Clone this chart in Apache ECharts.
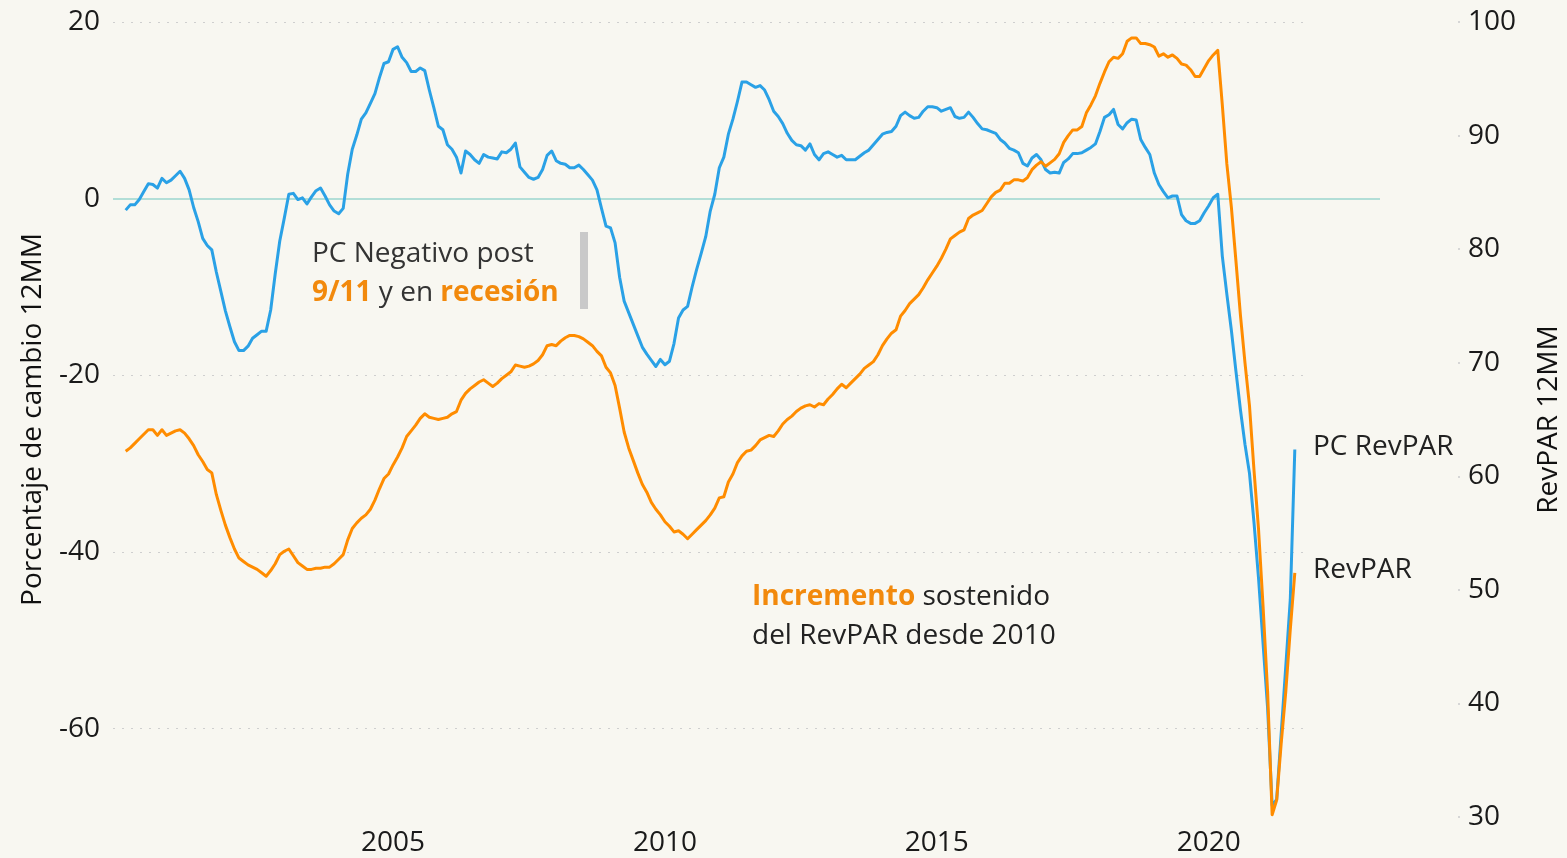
<!DOCTYPE html>
<html><head><meta charset="utf-8">
<script src="https://cdn.jsdelivr.net/npm/echarts@6/dist/echarts.min.js"></script>
<style>html,body{margin:0;padding:0;background:#f8f7f1;}#c{width:1567px;height:858px;}</style>
</head><body><div id="c"></div>
<script>
// ---- data ----
const startYear = 2000; // monthly series, first value = Jan 2000
const xTickLabels = [2005, 2010, 2015, 2020];
const leftTickValues = [-60, -40, -20, 0, 20];
const gridLineValues = [-60, -40, -20, 20];
const seriesNames = ['PC RevPAR', 'RevPAR'];
const pcRevpar = [
  -1.3,-0.7,-0.7,-0.1,0.8,1.7,1.6,1.2,2.3,1.8,2.1,2.6,
  3.1,2.3,1.0,-1.0,-2.6,-4.5,-5.3,-5.8,-8.3,-10.5,-12.7,-14.5,
  -16.2,-17.2,-17.2,-16.7,-15.8,-15.4,-15.0,-15.0,-12.6,-8.5,-4.8,-2.2,
  0.5,0.6,-0.1,0.1,-0.6,0.2,0.9,1.2,0.3,-0.7,-1.4,-1.7,
  -1.1,2.8,5.6,7.2,9.0,9.7,10.8,11.9,13.7,15.3,15.5,16.9,
  17.2,16.0,15.4,14.4,14.4,14.8,14.5,12.3,10.3,8.2,7.8,6.1,
  5.6,4.7,2.9,5.4,5.0,4.4,4.0,5.0,4.7,4.6,4.5,5.3,
  5.2,5.6,6.3,3.6,3.0,2.4,2.2,2.4,3.3,4.9,5.4,4.3,
  4.0,3.9,3.5,3.5,3.8,3.3,2.7,2.1,1.0,-1.1,-3.1,-3.3,
  -5.0,-8.9,-11.6,-12.9,-14.2,-15.5,-16.8,-17.6,-18.3,-19.0,-18.2,-18.8,
  -18.4,-16.4,-13.5,-12.6,-12.2,-10.0,-8.0,-6.2,-4.3,-1.4,0.5,3.5,
  4.7,7.3,9.0,11.0,13.2,13.2,12.9,12.6,12.8,12.3,11.2,9.9,
  9.3,8.5,7.4,6.6,6.1,6.0,5.5,6.2,5.0,4.4,5.1,5.3,
  5.0,4.7,4.9,4.4,4.4,4.4,4.8,5.2,5.5,6.1,6.7,7.3,
  7.5,7.6,8.2,9.4,9.8,9.4,9.1,9.2,9.9,10.4,10.4,10.3,
  9.9,10.1,10.3,9.3,9.1,9.2,9.8,9.2,8.5,7.9,7.8,7.6,
  7.4,6.7,6.3,5.7,5.5,5.2,4.0,3.7,4.6,5.0,4.4,3.3,
  2.9,3.0,2.9,4.1,4.5,5.1,5.1,5.2,5.5,5.8,6.2,7.6,
  9.2,9.5,10.1,8.4,7.9,8.6,9.0,8.9,6.7,5.8,5.0,2.9,
  1.6,0.8,0.1,0.3,0.3,-1.8,-2.5,-2.8,-2.8,-2.5,-1.6,-0.8,
  0.1,0.5,-6.5,-10.8,-14.9,-19.5,-23.9,-27.8,-31.1,-36.7,-43.0,-50.4,
  -57.7,-68.7,-68.0,-60.5,-53.0,-45.4,-28.4
];
const revpar = [
  62.2,62.5,62.9,63.3,63.7,64.1,64.1,63.6,64.1,63.6,63.8,64.0,
  64.1,63.8,63.3,62.7,61.9,61.3,60.6,60.3,58.4,57.0,55.7,54.6,
  53.6,52.8,52.5,52.2,52.0,51.8,51.5,51.2,51.7,52.3,53.1,53.4,
  53.6,53.0,52.4,52.1,51.8,51.8,51.9,51.9,52.0,52.0,52.3,52.7,
  53.1,54.4,55.4,55.9,56.3,56.6,57.1,57.9,58.9,59.8,60.2,61.0,
  61.7,62.5,63.5,64.0,64.5,65.1,65.5,65.2,65.1,65.0,65.1,65.2,
  65.5,65.7,66.7,67.3,67.7,68.0,68.3,68.5,68.2,67.9,68.2,68.6,
  68.9,69.2,69.8,69.7,69.6,69.7,69.9,70.2,70.7,71.5,71.6,71.5,
  71.9,72.2,72.4,72.4,72.3,72.1,71.8,71.5,71.0,70.6,69.6,69.1,
  68.0,66.0,63.9,62.5,61.4,60.3,59.3,58.6,57.7,57.1,56.6,56.0,
  55.6,55.1,55.2,54.9,54.5,54.9,55.3,55.7,56.1,56.6,57.2,58.1,
  58.2,59.5,60.2,61.2,61.8,62.2,62.3,62.7,63.2,63.4,63.6,63.5,
  64.0,64.6,65.0,65.3,65.7,66.0,66.2,66.3,66.1,66.4,66.3,66.8,
  67.2,67.7,68.1,67.8,68.2,68.6,69.0,69.5,69.8,70.1,70.7,71.5,
  72.1,72.6,72.9,74.1,74.6,75.2,75.6,76.0,76.6,77.3,77.9,78.5,
  79.2,80.0,80.9,81.2,81.5,81.7,82.7,83.0,83.2,83.4,84.0,84.6,
  85.0,85.2,85.8,85.8,86.1,86.1,86.0,86.3,87.0,87.4,87.7,87.3,
  87.6,87.9,88.4,89.4,90.0,90.5,90.5,90.8,92.0,92.7,93.5,94.6,
  95.6,96.5,96.9,96.8,97.2,98.3,98.6,98.6,98.1,98.1,98.0,97.8,
  97.0,97.2,96.9,97.1,96.8,96.3,96.2,95.8,95.2,95.2,95.9,96.6,
  97.1,97.5,92.7,87.5,83.7,79.0,74.2,70.0,66.2,60.5,55.3,48.5,
  41.0,30.2,31.5,36.5,41.0,46.5,51.5
];

// ---- layout / style ----
const FONT = '"Open Sans", "Noto Sans", sans-serif';
const BLUE = '#2aa1e6';
const ORANGE = '#ff8c00';
const ORANGE_TXT = '#f2890c';
const X_MIN = 1999.85, X_MAX = 2023.15, GRID_END = 2021.76;
const ANN = 28;

const toPts = arr => arr.map((v, i) => [startYear + (i + 1) / 12, v]);

const gridLines = gridLineValues.map(v => [
  { coord: [X_MIN, v], lineStyle: { color: '#cfcfcf', width: 1.2, type: [2, 7] } },
  { coord: [GRID_END, v] }
]);
gridLines.push([
  { coord: [X_MIN, 0], lineStyle: { color: '#b2ded7', width: 2, type: 'solid' } },
  { coord: [X_MAX, 0] }
]);

const chart = echarts.init(document.getElementById('c'), null, { renderer: 'canvas' });
chart.setOption({
  backgroundColor: '#f8f7f1',
  animation: false,
  textStyle: { fontFamily: FONT },
  grid: { left: 113, right: 187, top: 22, bottom: 41, containLabel: false, outerBoundsMode: 'none' },
  xAxis: {
    type: 'value', min: X_MIN, max: X_MAX,
    axisLine: { show: false }, axisTick: { show: false }, splitLine: { show: false },
    axisLabel: { customValues: xTickLabels, formatter: v => String(Math.round(v)),
      fontSize: 28, color: '#1a1a1a', margin: 12, fontFamily: FONT }
  },
  yAxis: [
    {
      type: 'value', min: -70, max: 20,
      axisLine: { show: false }, axisTick: { show: false }, splitLine: { show: false },
      axisLabel: { customValues: leftTickValues, fontSize: 28, color: '#1a1a1a', margin: 13, fontFamily: FONT },
      name: 'Porcentaje de cambio 12MM', nameLocation: 'middle', nameRotate: 90, nameGap: 66,
      nameTextStyle: { fontSize: 28, color: '#111', fontFamily: FONT }
    },
    {
      type: 'value', min: 30, max: 100, interval: 10, position: 'right', offset: 78,
      axisLine: { show: false },
      axisTick: { show: true, length: 2, lineStyle: { color: '#d6d6d6', width: 2 } },
      splitLine: { show: false },
      axisLabel: { fontSize: 28, color: '#1a1a1a', margin: 10, fontFamily: FONT },
      name: 'RevPAR 12MM', nameLocation: 'middle', nameRotate: 90, nameGap: 77,
      nameTextStyle: { fontSize: 28, color: '#111', fontFamily: FONT }
    }
  ],
  series: [
    {
      name: seriesNames[0], type: 'line', yAxisIndex: 0, data: toPts(pcRevpar),
      showSymbol: false, smooth: false, z: 3,
      lineStyle: { color: BLUE, width: 3, join: 'round' },
      markLine: { silent: true, symbol: 'none', z: 1, label: { show: false },
        emphasis: { disabled: true }, data: gridLines }
    },
    {
      name: seriesNames[1], type: 'line', yAxisIndex: 1, data: toPts(revpar),
      showSymbol: false, smooth: false, z: 4,
      lineStyle: { color: ORANGE, width: 3, join: 'round' }
    }
  ],
  graphic: [
    { type: 'rect', shape: { x: 580, y: 232, width: 8, height: 77 }, style: { fill: '#c9c9c9' }, silent: true },
    { type: 'text', silent: true, style: {
        x: 312, y: 235, text: 'PC Negativo post\n{o|9/11} y en {o|recesión}',
        fontSize: ANN, fontFamily: FONT, fill: '#333', lineHeight: 39,
        rich: { o: { fill: ORANGE_TXT, fontWeight: 'bold', fontSize: ANN, fontFamily: FONT, lineHeight: 39 } }
    } },
    { type: 'text', silent: true, style: {
        x: 752, y: 578, text: '{o|Incremento} sostenido\ndel RevPAR desde 2010',
        fontSize: ANN, fontFamily: FONT, fill: '#222', lineHeight: 39,
        rich: { o: { fill: ORANGE_TXT, fontWeight: 'bold', fontSize: ANN, fontFamily: FONT, lineHeight: 39 } }
    } },
    { type: 'text', silent: true, style: { x: 1313, y: 447, text: 'PC RevPAR', fontSize: ANN, fontFamily: FONT,
        fill: '#222', verticalAlign: 'middle' } },
    { type: 'text', silent: true, style: { x: 1313, y: 570, text: 'RevPAR', fontSize: ANN, fontFamily: FONT,
        fill: '#222', verticalAlign: 'middle' } }
  ]
});
</script>
</body></html>
